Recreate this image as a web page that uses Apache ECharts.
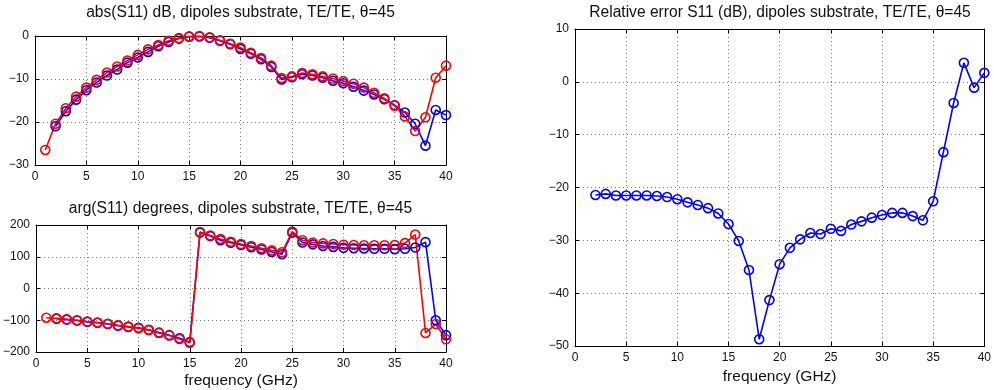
<!DOCTYPE html>
<html>
<head>
<meta charset="utf-8">
<title>S11 dipoles substrate</title>
<script src="https://cdn.jsdelivr.net/npm/echarts@6/dist/echarts.min.js"></script>
<style>
html, body { margin: 0; padding: 0; background: #fff; }
#chart { width: 994px; height: 390px; }
</style>
</head>
<body>
<div id="chart"></div>
<script>
// frequencies (GHz)
const freqRed = [1, 2, 3, 4, 5, 6, 7, 8, 9, 10, 11, 12, 13, 14, 15, 16, 17, 18, 19, 20,
  21, 22, 23, 24, 25, 26, 27, 28, 29, 30, 31, 32, 33, 34, 35, 36, 37, 38, 39, 40];
const freqBlue = [2, 3, 4, 5, 6, 7, 8, 9, 10, 11, 12, 13, 14, 15, 16, 17, 18, 19, 20,
  21, 22, 23, 24, 25, 26, 27, 28, 29, 30, 31, 32, 33, 34, 35, 36, 37, 38, 39, 40];

// abs(S11) dB
const absRed = [-26.5, -20.4, -16.8, -14.1, -12.0, -10.2, -8.5, -7.1, -5.7, -4.4,
  -3.1, -2.1, -1.1, -0.5, -0.1, 0, -0.3, -1.0, -1.8, -2.7,
  -3.9, -5.1, -6.9, -9.8, -9.4, -8.6, -8.9, -9.4, -9.9, -10.5,
  -11.1, -12.0, -13.2, -14.5, -16.2, -18.7, -22.1, -18.9, -9.7, -6.9];
const absBlue = [-21.0, -17.5, -14.8, -12.6, -10.8, -9.2, -7.8, -6.2, -5.0,
  -3.7, -2.4, -1.4, -0.6, -0.15, -0.1, -0.4, -1.1, -1.9, -3.0,
  -4.1, -5.4, -7.2, -10.1, -9.6, -8.9, -9.2, -9.7, -10.4, -11.0,
  -11.8, -12.7, -13.6, -14.7, -16.1, -17.8, -20.4, -25.5, -17.2, -18.4];

// arg(S11) degrees
const argRed = [-92, -94, -97, -100, -104, -107, -111, -116, -120, -125,
  -131, -140, -148, -159, -171, 178, 167, 156, 147, 140,
  134, 127, 120, 114, 179, 152, 145, 142, 140, 138,
  137, 136, 136, 136, 137, 143, 170, -140, -112, -160];
const argBlue = [-95, -98, -101, -105, -108, -112, -117, -121, -124,
  -130, -139, -147, -157, -169, 176, 165, 152, 144, 137,
  130, 123, 115, 108, 176, 145, 139, 134, 131, 128,
  127, 126, 125, 125, 124, 125, 129, 146, -100, -147];

// relative error S11 (dB)
const errVal = [-21.4, -21.2, -21.5, -21.5, -21.5, -21.5, -21.6, -21.8, -22.2,
  -22.8, -23.3, -23.9, -24.9, -26.9, -30.1, -35.6, -48.7, -41.3, -34.5,
  -31.4, -29.8, -28.6, -28.8, -27.8, -28.2, -27.0, -26.4, -25.7, -25.2,
  -24.8, -24.8, -25.4, -26.2, -22.6, -13.3, -4.0, 3.6, -1.1, 1.7];

const xTicks = { min: 0, max: 40, interval: 5 };
const absTicks = { min: -30, max: 0, interval: 10 };
const argTicks = { min: -200, max: 200, interval: 100 };
const errTicks = { min: -50, max: 10, interval: 10 };

const FONT = "Liberation Sans";
const BLUE = "#0000ff";
const RED = "#ff0000";

const grids = [
  { left: 35, top: 36, width: 411, height: 129 },
  { left: 35, top: 225, width: 411, height: 128 },
  { left: 575, top: 29, width: 410, height: 324 }
];

function fmt(v) {
  return String(v).replace("-", "\u2212");
}

function makeX(gridIndex, ticks, withName) {
  const base = {
    type: "value",
    gridIndex: gridIndex,
    min: ticks.min,
    max: ticks.max,
    interval: ticks.interval,
    axisLine: { show: true, onZero: false, lineStyle: { color: "#000", width: 1 } },
    axisTick: { show: true, inside: true, length: 4, lineStyle: { color: "#000" } }
  };
  const bottom = Object.assign({}, base, {
    position: "bottom",
    axisLabel: { color: "#111", fontSize: 12, fontFamily: FONT, margin: 6, formatter: fmt },
    splitLine: { show: true, lineStyle: { color: "#777", type: [1, 3], width: 1 } }
  });
  if (withName) {
    bottom.name = "frequency (GHz)";
    bottom.nameLocation = "middle";
    bottom.nameGap = 21;
    bottom.nameTextStyle = { color: "#111", fontSize: 15.5, fontFamily: FONT };
  }
  const top = Object.assign({}, base, {
    position: "top",
    axisLabel: { show: false },
    splitLine: { show: false }
  });
  return [bottom, top];
}

function makeY(gridIndex, ticks) {
  const base = {
    type: "value",
    gridIndex: gridIndex,
    min: ticks.min,
    max: ticks.max,
    interval: ticks.interval,
    axisLine: { show: true, onZero: false, lineStyle: { color: "#000", width: 1 } },
    axisTick: { show: true, inside: true, length: 4, lineStyle: { color: "#000" } }
  };
  const left = Object.assign({}, base, {
    position: "left",
    axisLabel: { color: "#111", fontSize: 12, fontFamily: FONT, margin: 6, formatter: fmt },
    splitLine: { show: true, lineStyle: { color: "#777", type: [1, 3], width: 1 } }
  });
  const right = Object.assign({}, base, {
    position: "right",
    axisLabel: { show: false },
    splitLine: { show: false }
  });
  return [left, right];
}

function pairs(xs, ys) {
  return xs.map((x, i) => [x, ys[i]]);
}

function lineSeries(name, color, data, axisIdx) {
  return {
    name: name,
    type: "line",
    xAxisIndex: axisIdx,
    yAxisIndex: axisIdx,
    data: data,
    symbol: "circle",
    symbolSize: 9,
    showAllSymbol: true,
    lineStyle: { color: color, width: 1.6 },
    itemStyle: { color: "transparent", borderColor: color, borderWidth: 1.6 },
    emphasis: { disabled: true },
    silent: true
  };
}

const titles = [
  { text: "abs(S11) dB, dipoles substrate, TE/TE, \u03b8=45", x: 240.5, y: 13 },
  { text: "arg(S11) degrees, dipoles substrate, TE/TE, \u03b8=45", x: 240.5, y: 209 },
  { text: "Relative error S11 (dB), dipoles substrate, TE/TE, \u03b8=45", x: 780, y: 13 }
];

const myChart = echarts.init(document.getElementById("chart"));

const option = {
  backgroundColor: "#fff",
  animation: false,
  grid: grids,
  xAxis: [].concat(makeX(0, xTicks, false), makeX(1, xTicks, true), makeX(2, xTicks, true)),
  yAxis: [].concat(makeY(0, absTicks), makeY(1, argTicks), makeY(2, errTicks)),
  graphic: titles.map(t => ({
    type: "text",
    x: t.x,
    y: t.y,
    style: {
      text: t.text,
      fill: "#111",
      font: "15.6px '" + FONT + "'",
      textAlign: "center",
      textVerticalAlign: "middle"
    }
  })),
  series: [
    lineSeries("blue abs", BLUE, pairs(freqBlue, absBlue), 0),
    lineSeries("red abs", RED, pairs(freqRed, absRed), 0),
    lineSeries("blue arg", BLUE, pairs(freqBlue, argBlue), 2),
    lineSeries("red arg", RED, pairs(freqRed, argRed), 2),
    lineSeries("error", BLUE, pairs(freqBlue, errVal), 4)
  ]
};

myChart.setOption(option);
</script>
</body>
</html>
